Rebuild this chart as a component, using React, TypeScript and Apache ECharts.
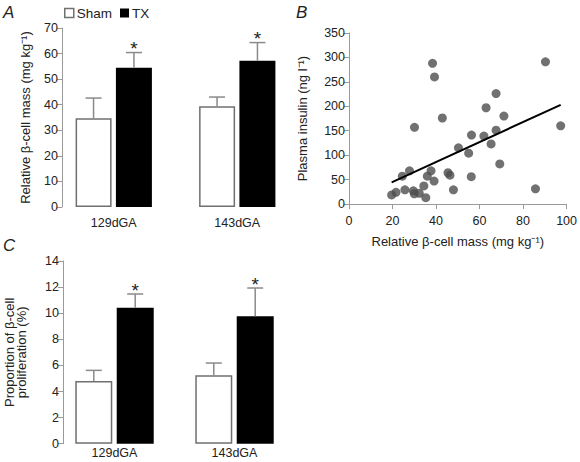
import React, { useEffect, useRef } from "react";
import * as echarts from "echarts";

const categories = ["129dGA", "143dGA"];
const seriesNames = ["Sham", "TX"];

// Panel A: relative beta-cell mass (mg kg-1)
const massSham = [34.7, 39.4];
const massShamErr = [7.9, 3.6];
const massTX = [54.5, 57.2];
const massTXErr = [5.9, 7.1];

// Panel C: proportion of beta-cell proliferation (%)
const prolSham = [4.8, 5.24];
const prolShamErr = [0.82, 0.94];
const prolTX = [10.42, 9.76];
const prolTXErr = [1.05, 2.17];

// Panel B: scatter (relative beta-cell mass vs plasma insulin)
const scatterPoints: [number, number][] = [
  [19.6, 18.5], [21.6, 24], [24.5, 57], [25.7, 29], [27.8, 68], [30.1, 157],
  [29.6, 27], [30.0, 21], [32.3, 22], [34.4, 37], [35.3, 13], [36.0, 57],
  [37.7, 68], [38.4, 288], [39.3, 260], [39.1, 47], [42.9, 176], [45.5, 64],
  [46.4, 59], [48.0, 29], [50.3, 115], [55.0, 104], [56.3, 141], [56.2, 56],
  [62.0, 139], [63.0, 197], [65.3, 123], [67.6, 151], [67.6, 226], [69.3, 82],
  [71.2, 180], [85.7, 31], [90.3, 291], [97.3, 160],
];
const regressionLine: [number, number][] = [[19.6, 44.4], [97.3, 203]];

const massTicks = { min: 0, max: 70, interval: 10 };
const prolTicks = { min: 0, max: 14, interval: 2 };
const insulinTicks = { min: 0, max: 350, interval: 50 };
const betaMassTicks = { min: 0, max: 100, interval: 20 };

const FONT = "Liberation Sans";
const AXIS_GRAY = "#9a9a9a";
const TEXT = "#222";
const ERR = "#8a8a8a";

function errorSeries(
  name: string,
  values: number[],
  errs: number[],
  offset: number,
  star: boolean,
  axisIdx: number
) {
  return {
    type: "custom",
    name,
    xAxisIndex: axisIdx,
    yAxisIndex: axisIdx,
    silent: true,
    z: 5,
    encode: { x: 0, y: 1 },
    data: values.map((v, i) => [i, v, errs[i]]),
    renderItem: (params: any, api: any) => {
      const c = api.value(0);
      const v = api.value(1);
      const e = api.value(2);
      const p0 = api.coord([c, v]);
      const p1 = api.coord([c, v + e]);
      const x = p0[0] + offset;
      const children: any[] = [
        {
          type: "line",
          shape: { x1: x, y1: p0[1], x2: x, y2: p1[1] },
          style: { stroke: ERR, lineWidth: 1.5 },
        },
        {
          type: "line",
          shape: { x1: x - 8, y1: p1[1], x2: x + 8, y2: p1[1] },
          style: { stroke: ERR, lineWidth: 1.5 },
        },
      ];
      if (star) {
        children.push({
          type: "text",
          x: x,
          y: p1[1] - 4,
          style: {
            text: "*",
            fontSize: 19,
            fontFamily: FONT,
            fill: TEXT,
            align: "center",
            verticalAlign: "middle",
          },
        });
      }
      return { type: "group", children };
    },
  };
}

export default function App() {
  const ref = useRef<HTMLDivElement>(null);

  useEffect(() => {
    if (!ref.current) return;
    const chart = echarts.init(ref.current, undefined, { renderer: "svg" });

    const catAxis = (gridIndex: number, margin: number) => ({
      type: "category",
      gridIndex,
      data: categories,
      axisLine: { show: false },
      axisTick: { show: false },
      axisLabel: { color: TEXT, fontSize: 12.5, fontFamily: FONT, margin },
    });

    const valAxisBar = (gridIndex: number, t: any, offset: number, fs: number) => ({
      type: "value",
      gridIndex,
      min: t.min,
      max: t.max,
      interval: t.interval,
      offset,
      axisLine: { show: true, lineStyle: { color: AXIS_GRAY, width: 1 } },
      axisTick: { show: true, length: 5, lineStyle: { color: AXIS_GRAY } },
      axisLabel: { color: TEXT, fontSize: fs, fontFamily: FONT, margin: 4 },
      splitLine: { show: false },
    });

    const shamStyle = { color: "#ffffff", borderColor: "#707070", borderWidth: 1.5 };
    const txStyle = { color: "#000000" };

    const option: any = {
      animation: false,
      textStyle: { fontFamily: FONT },
      legend: {
        data: [
          { name: seriesNames[0], itemStyle: shamStyle },
          { name: seriesNames[1], itemStyle: txStyle },
        ],
        left: 64,
        top: 6,
        icon: "rect",
        itemWidth: 9,
        itemHeight: 9,
        itemGap: 8,
        padding: 0,
        textStyle: { color: TEXT, fontSize: 13.5, fontFamily: FONT, padding: [0, 0, 0, -2] },
        selectedMode: false,
      },
      grid: [
        { left: 52, top: 28, width: 247, height: 179 },
        { left: 349, top: 33, width: 219, height: 171 },
        { left: 54.5, top: 261, width: 240, height: 182.7 },
      ],
      xAxis: [
        catAxis(0, 9),
        {
          type: "value",
          gridIndex: 1,
          min: betaMassTicks.min,
          max: betaMassTicks.max,
          interval: betaMassTicks.interval,
          axisLine: { show: true, lineStyle: { color: AXIS_GRAY } },
          axisTick: { show: true, length: 5, lineStyle: { color: AXIS_GRAY } },
          axisLabel: { color: TEXT, fontSize: 12.5, fontFamily: FONT, margin: 10 },
          splitLine: { show: false },
          name: "Relative β-cell mass (mg kg⁻¹)",
          nameLocation: "middle",
          nameGap: 31,
          nameTextStyle: { color: TEXT, fontSize: 13, fontFamily: FONT },
        },
        catAxis(2, 3),
      ],
      yAxis: [
        {
          ...valAxisBar(0, massTicks, -10, 12.5),
          name: "Relative β-cell mass (mg kg⁻¹)",
          nameLocation: "middle",
          nameGap: 30,
          nameTextStyle: { color: TEXT, fontSize: 13, fontFamily: FONT },
        },
        {
          ...valAxisBar(1, insulinTicks, 0, 12.5),
          name: "Plasma insulin (ng l⁻¹)",
          nameLocation: "middle",
          nameGap: 40,
          nameTextStyle: { color: TEXT, fontSize: 13, fontFamily: FONT },
        },
        {
          ...valAxisBar(2, prolTicks, -8.5, 12.5),
          name: "Proportion of β-cell\nproliferation (%)",
          nameLocation: "middle",
          nameGap: 35,
          nameTextStyle: { color: TEXT, fontSize: 13, fontFamily: FONT, lineHeight: 12.5 },
        },
      ],
      series: [
        {
          type: "bar",
          name: seriesNames[0],
          xAxisIndex: 0,
          yAxisIndex: 0,
          data: massSham,
          barWidth: 36,
          barGap: "12%",
          itemStyle: shamStyle,
        },
        {
          type: "bar",
          name: seriesNames[1],
          xAxisIndex: 0,
          yAxisIndex: 0,
          data: massTX,
          barWidth: 36,
          barGap: "12%",
          itemStyle: txStyle,
        },
        errorSeries("errA0", massSham, massShamErr, -20.2, false, 0),
        errorSeries("errA1", massTX, massTXErr, 20.2, true, 0),
        {
          type: "scatter",
          name: "points",
          xAxisIndex: 1,
          yAxisIndex: 1,
          data: scatterPoints,
          symbolSize: 9,
          itemStyle: { color: "#4d4d4d" },
        },
        {
          type: "line",
          name: "fit",
          xAxisIndex: 1,
          yAxisIndex: 1,
          data: regressionLine,
          showSymbol: false,
          symbol: "none",
          lineStyle: { color: "#000", width: 2 },
          z: 3,
        },
        {
          type: "bar",
          name: seriesNames[0],
          xAxisIndex: 2,
          yAxisIndex: 2,
          data: prolSham,
          barWidth: 37,
          barGap: "12%",
          itemStyle: shamStyle,
        },
        {
          type: "bar",
          name: seriesNames[1],
          xAxisIndex: 2,
          yAxisIndex: 2,
          data: prolTX,
          barWidth: 37,
          barGap: "12%",
          itemStyle: txStyle,
        },
        errorSeries("errC0", prolSham, prolShamErr, -20.7, false, 2),
        errorSeries("errC1", prolTX, prolTXErr, 20.7, true, 2),
      ],
      graphic: [
        {
          type: "text",
          left: 3,
          top: 4,
          style: { text: "A", fontSize: 17, fontStyle: "italic", fontFamily: FONT, fill: TEXT },
        },
        {
          type: "text",
          left: 296,
          top: 4,
          style: { text: "B", fontSize: 17, fontStyle: "italic", fontFamily: FONT, fill: TEXT },
        },
        {
          type: "text",
          left: 3,
          top: 237,
          style: { text: "C", fontSize: 17, fontStyle: "italic", fontFamily: FONT, fill: TEXT },
        },
      ],
    };

    chart.setOption(option);
    return () => chart.dispose();
  }, []);

  return (
    <div
      ref={ref}
      style={{ position: "fixed", left: 0, top: 0, width: 580, height: 462, background: "#fff" }}
    />
  );
}
